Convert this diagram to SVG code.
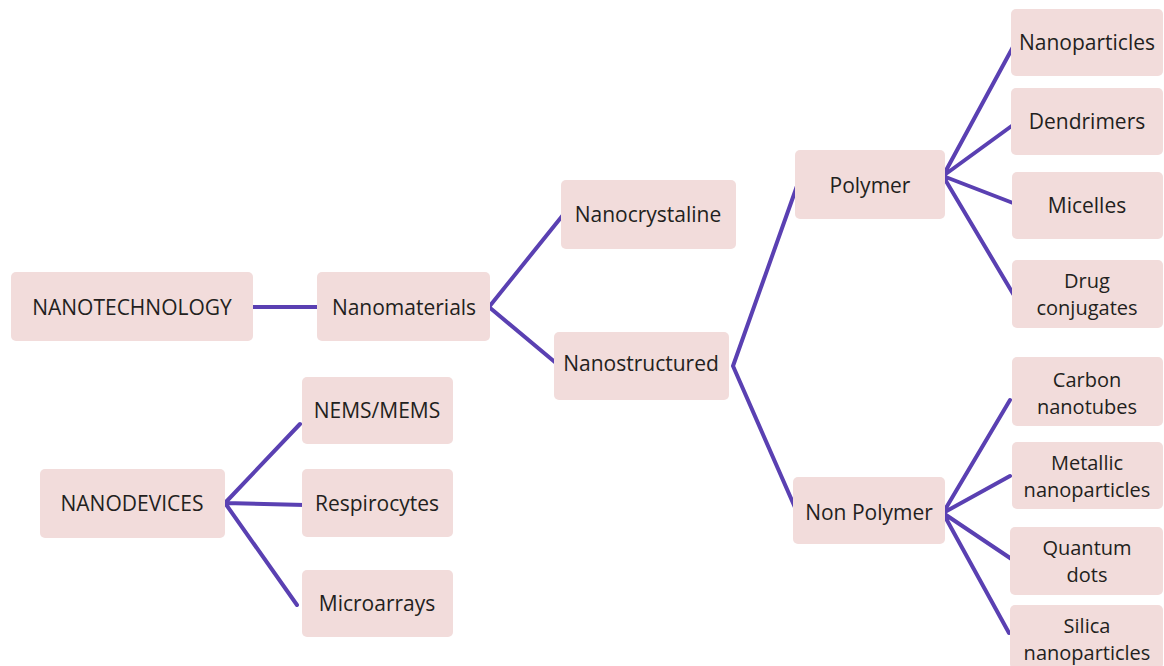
<svg xmlns="http://www.w3.org/2000/svg" width="1164" height="666" viewBox="0 0 1164 666">
<style>
.box{fill:#f2dcdb;}
.t{font-family:"Open Sans","Liberation Sans",sans-serif;font-size:21px;fill:#231f20;text-anchor:middle;dominant-baseline:central;}
.t2{font-size:20px;}
.c{fill:none;stroke:#5a40b2;stroke-width:4;stroke-linecap:round;stroke-linejoin:round;}
</style>
<rect width="1164" height="666" fill="#ffffff"/>
<g id="connectors">
<path class="c" d="M252 307 H320"/>
<path class="c" d="M563 215 L489 307 L556 363"/>
<path class="c" d="M797 186 L733 366 L797 512"/>
<path class="c" d="M1013 47 L943 176 L1013 125 M943 176 L1013 203 M943 176 L1015 297"/>
<path class="c" d="M1010 400 L943 513 L1010 476 M943 513 L1013 560 M943 513 L1009 633"/>
<path class="c" d="M300 424 L225 503 L305 505 M225 503 L297 605"/>
</g>
<g id="n-nanotechnology"><rect class="box" x="11" y="272" width="242" height="69" rx="5"/><text class="t" x="132" y="307">NANOTECHNOLOGY</text></g>
<g id="n-nanomaterials"><rect class="box" x="317" y="272" width="173" height="69" rx="5"/><text class="t" x="404" y="307">Nanomaterials</text></g>
<g id="n-nanocrystaline"><rect class="box" x="561" y="180" width="175" height="69" rx="5"/><text class="t" x="648" y="214">Nanocrystaline</text></g>
<g id="n-nanostructured"><rect class="box" x="554" y="332" width="175" height="68" rx="5"/><text class="t" x="641" y="363">Nanostructured</text></g>
<g id="n-polymer"><rect class="box" x="795" y="150" width="150" height="69" rx="5"/><text class="t" x="870" y="185">Polymer</text></g>
<g id="n-nonpolymer"><rect class="box" x="793" y="477" width="152" height="67" rx="5"/><text class="t" x="869" y="512">Non Polymer</text></g>
<g id="n-nanoparticles"><rect class="box" x="1011" y="9" width="152" height="67" rx="5"/><text class="t" x="1087" y="42">Nanoparticles</text></g>
<g id="n-dendrimers"><rect class="box" x="1011" y="88" width="152" height="67" rx="5"/><text class="t" x="1087" y="121">Dendrimers</text></g>
<g id="n-micelles"><rect class="box" x="1012" y="172" width="151" height="67" rx="5"/><text class="t" x="1087" y="205">Micelles</text></g>
<g id="n-drug"><rect class="box" x="1012" y="260" width="151" height="68" rx="5"/><text class="t t2" x="1087" y="280">Drug</text><text class="t t2" x="1087" y="307">conjugates</text></g>
<g id="n-carbon"><rect class="box" x="1012" y="357" width="151" height="69" rx="5"/><text class="t t2" x="1087" y="379">Carbon</text><text class="t t2" x="1087" y="406">nanotubes</text></g>
<g id="n-metallic"><rect class="box" x="1012" y="442" width="151" height="67" rx="5"/><text class="t t2" x="1087" y="462">Metallic</text><text class="t t2" x="1087" y="489">nanoparticles</text></g>
<g id="n-quantum"><rect class="box" x="1010" y="527" width="153" height="68" rx="5"/><text class="t t2" x="1087" y="547">Quantum</text><text class="t t2" x="1087" y="574">dots</text></g>
<g id="n-silica"><rect class="box" x="1010" y="605" width="153" height="64" rx="5"/><text class="t t2" x="1087" y="625">Silica</text><text class="t t2" x="1087" y="652">nanoparticles</text></g>
<g id="n-nanodevices"><rect class="box" x="40" y="469" width="185" height="69" rx="5"/><text class="t" x="132" y="503">NANODEVICES</text></g>
<g id="n-nems"><rect class="box" x="302" y="377" width="151" height="67" rx="5"/><text class="t" x="377" y="410">NEMS/MEMS</text></g>
<g id="n-respirocytes"><rect class="box" x="302" y="469" width="151" height="68" rx="5"/><text class="t" x="377" y="503">Respirocytes</text></g>
<g id="n-microarrays"><rect class="box" x="302" y="570" width="151" height="67" rx="5"/><text class="t" x="377" y="603">Microarrays</text></g>
</svg>
